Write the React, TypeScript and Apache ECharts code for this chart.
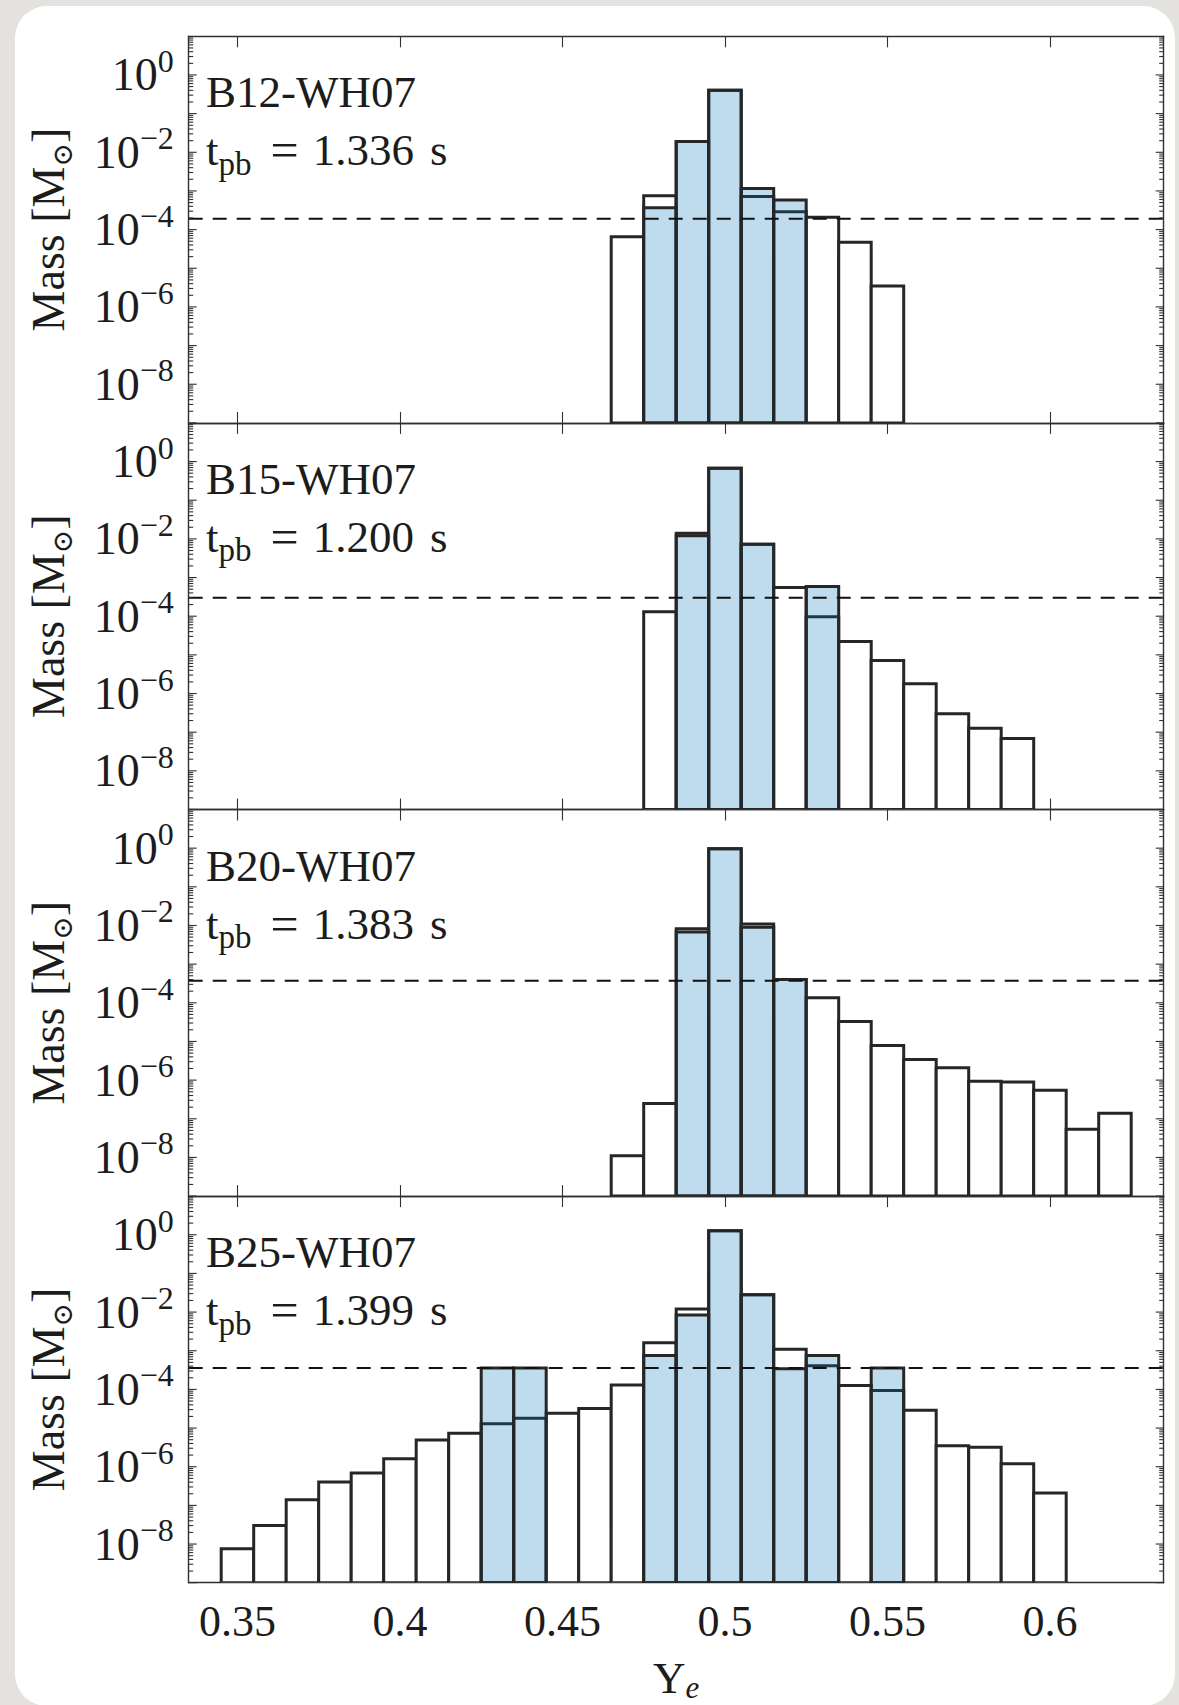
import React, { useEffect, useRef } from "react";
import * as echarts from "echarts";

// ---------- data ----------
const _ = null;
// Ye bin centres (bin width 0.01)
const YE_BINS = [
  0.35, 0.36, 0.37, 0.38, 0.39, 0.4, 0.41, 0.42, 0.43, 0.44, 0.45, 0.46, 0.47, 0.48,
  0.49, 0.5, 0.51, 0.52, 0.53, 0.54, 0.55, 0.56, 0.57, 0.58, 0.59, 0.6, 0.61, 0.62,
];
const BIN_WIDTH = 0.01;

// total mass per bin (white histogram)
const B12_TOTAL = [_, _, _, _, _, _, _, _, _, _, _, _, 6.5e-5, 7.5e-4, 1.9e-2, 0.4, 7.2e-4, 2.9e-4, 2.1e-4, 4.7e-5, 3.5e-6, _, _, _, _, _, _, _];
const B15_TOTAL = [_, _, _, _, _, _, _, _, _, _, _, _, _, 1.3e-4, 1.4e-2, 0.67, 7.3e-3, 5.5e-4, 9.7e-5, 2.2e-5, 7.1e-6, 1.8e-6, 3.0e-7, 1.26e-7, 6.9e-8, _, _, _];
const B20_TOTAL = [_, _, _, _, _, _, _, _, _, _, _, _, 1.1e-8, 2.5e-7, 8.2e-3, 0.96, 1.1e-2, 4.0e-4, 1.35e-4, 3.3e-5, 7.9e-6, 3.4e-6, 2.1e-6, 9.3e-7, 8.9e-7, 5.5e-7, 5.4e-8, 1.4e-7];
const B25_TOTAL = [7.6e-9, 3.0e-8, 1.4e-7, 4.0e-7, 6.9e-7, 1.6e-6, 4.9e-6, 7.3e-6, 1.3e-5, 1.8e-5, 2.4e-5, 3.2e-5, 1.3e-4, 1.6e-3, 1.2e-2, 1.27, 2.8e-2, 1.1e-3, 4.1e-4, 1.26e-4, 9.3e-5, 2.9e-5, 3.5e-6, 3.2e-6, 1.2e-6, 2.1e-7, _, _];

// blue histogram
const B12_BLUE = [_, _, _, _, _, _, _, _, _, _, _, _, _, 3.7e-4, 1.9e-2, 0.4, 1.15e-3, 5.8e-4, _, _, _, _, _, _, _, _, _, _];
const B15_BLUE = [_, _, _, _, _, _, _, _, _, _, _, _, _, _, 1.2e-2, 0.67, 7.3e-3, _, 5.9e-4, _, _, _, _, _, _, _, _, _];
const B20_BLUE = [_, _, _, _, _, _, _, _, _, _, _, _, _, _, 6.8e-3, 0.96, 9.0e-3, 4.0e-4, _, _, _, _, _, _, _, _, _, _];
const B25_BLUE = [_, _, _, _, _, _, _, _, 3.6e-4, 3.6e-4, _, _, _, 7.5e-4, 8.4e-3, 1.27, 2.8e-2, 3.4e-4, 7.5e-4, _, 3.6e-4, _, _, _, _, _, _, _];

// dashed threshold per model
const THRESHOLDS = [1.9e-4, 3.0e-4, 3.7e-4, 3.6e-4];
const MODEL_NAMES = ["B12-WH07", "B15-WH07", "B20-WH07", "B25-WH07"];
const TPB = ["1.336", "1.200", "1.383", "1.399"];

// axes
const X_MIN = 0.335;
const X_MAX = 0.635;
const X_TICKS = [0.35, 0.4, 0.45, 0.5, 0.55, 0.6];
const X_TICK_LABELS = ["0.35", "0.4", "0.45", "0.5", "0.55", "0.6"];
const Y_MIN = 1e-9;
const Y_MAX = 10;
const Y_LABEL_VALUES = [1, 1e-2, 1e-4, 1e-6, 1e-8];
const Y_DECADES = [1e-9, 1e-8, 1e-7, 1e-6, 1e-5, 1e-4, 1e-3, 1e-2, 1e-1, 1];
const Y_MINOR_MULTS = [2, 3, 4, 5, 6, 7, 8, 9];

// ---------- layout / style ----------
const FONT = "'Liberation Serif', 'DejaVu Serif', serif";
const TEXT = "#1c1c1c";
const AXIS = "#303030";
const EDGE = "#262626";
const GRID_LEFT = 188.7;
const GRID_WIDTH = 975;
const GRID_TOP0 = 36.3;
const GRID_H = 386.6;

function buildOption() {
  const totals = [B12_TOTAL, B15_TOTAL, B20_TOTAL, B25_TOTAL];
  const blues = [B12_BLUE, B15_BLUE, B20_BLUE, B25_BLUE];

  const yTickData: number[][] = [];
  Y_DECADES.forEach((d) => {
    yTickData.push([0.5, d, 1]);
    Y_MINOR_MULTS.forEach((k) => yTickData.push([0.5, d * k, 0]));
  });

  const grid: any[] = [];
  const xAxis: any[] = [];
  const yAxis: any[] = [];
  const series: any[] = [];
  const graphic: any[] = [
    {
      type: "rect",
      shape: { x: 15, y: 6, width: 1160, height: 1700, r: 32 },
      style: { fill: "#ffffff" },
      z: -100,
      silent: true,
    },
  ];

  const barRender = (fill: string) => (params: any, api: any) => {
    const c = api.value(0);
    const v = api.value(1);
    const p0 = api.coord([c - BIN_WIDTH / 2, v]);
    const p1 = api.coord([c + BIN_WIDTH / 2, Y_MIN]);
    return {
      type: "rect",
      shape: { x: p0[0], y: p0[1], width: p1[0] - p0[0], height: p1[1] - p0[1] },
      style: { fill, stroke: EDGE, lineWidth: 3 },
    };
  };

  for (let i = 0; i < 4; i++) {
    const top = GRID_TOP0 + i * GRID_H;
    grid.push({ left: GRID_LEFT, top, width: GRID_WIDTH, height: GRID_H, containLabel: false });
    const last = i === 3;
    const xCommon = {
      type: "value",
      gridIndex: i,
      min: X_MIN,
      max: X_MAX,
      splitLine: { show: false },
      axisLine: { show: true, lineStyle: { color: AXIS, width: 1.4 } },
      axisTick: { show: true, inside: true, length: 11, customValues: X_TICKS, lineStyle: { color: AXIS, width: 1.1 } },
    };
    xAxis.push({
      ...xCommon,
      position: "bottom",
      axisLabel: {
        show: last,
        customValues: X_TICKS,
        margin: 17,
        formatter: (v: number) => {
          const idx = X_TICKS.findIndex((t) => Math.abs(t - v) < 1e-6);
          return idx >= 0 ? X_TICK_LABELS[idx] : "";
        },
        fontFamily: FONT,
        fontSize: 44,
        lineHeight: 44,
        color: TEXT,
      },
      name: last ? "{n|Y}{s|e}" : "",
      nameLocation: "middle",
      nameGap: 70,
      nameTextStyle: {
        rich: {
          n: { fontFamily: FONT, fontSize: 45, lineHeight: 50, color: TEXT, verticalAlign: "middle" },
          s: { fontFamily: FONT, fontSize: 31, fontStyle: "italic", lineHeight: 26, color: TEXT, verticalAlign: "bottom" },
        },
      },
    });
    xAxis.push({ ...xCommon, position: "top", axisLabel: { show: false } });

    const yCommon = {
      type: "log",
      logBase: 10,
      gridIndex: i,
      min: Y_MIN,
      max: Y_MAX,
      splitLine: { show: false },
      axisLine: { show: true, lineStyle: { color: AXIS, width: 1.4 } },
      axisTick: { show: false },
      minorTick: { show: false },
    };
    yAxis.push({
      ...yCommon,
      position: "left",
      axisLabel: {
        show: true,
        customValues: Y_LABEL_VALUES,
        margin: 15,
        formatter: (v: number) => {
          const e = v > 0 ? Math.round(Math.log10(v)) : Math.round(v);
          const s = e < 0 ? "\u2212" + -e : String(e);
          return `{b|10}{s|${s}}`;
        },
        rich: {
          b: { fontFamily: FONT, fontSize: 46, lineHeight: 60, color: TEXT, verticalAlign: "middle" },
          s: { fontFamily: FONT, fontSize: 32, lineHeight: 32, color: TEXT, verticalAlign: "top" },
        },
      },
      name: "{n|Mass [M}{s|\u2299}{n|]}",
      nameLocation: "middle",
      nameRotate: 90,
      nameGap: 112,
      nameTextStyle: {
        rich: {
          n: { fontFamily: FONT, fontSize: 46, lineHeight: 56, color: TEXT, verticalAlign: "middle" },
          s: { fontFamily: "'DejaVu Serif', serif", fontSize: 28, lineHeight: 26, color: TEXT, verticalAlign: "bottom" },
        },
      },
    });
    yAxis.push({ ...yCommon, position: "right", axisLabel: { show: false } });

    const xi = 2 * i;
    const yi = 2 * i;
    const whiteData = YE_BINS.map((c, k) => [c, totals[i][k]]).filter((d) => d[1] != null);
    const blueData = YE_BINS.map((c, k) => [c, blues[i][k]]).filter((d) => d[1] != null);

    series.push({
      type: "custom",
      name: MODEL_NAMES[i] + " total",
      xAxisIndex: xi,
      yAxisIndex: yi,
      clip: true,
      z: 2,
      renderItem: barRender("#ffffff"),
      data: whiteData,
    });
    series.push({
      type: "custom",
      name: MODEL_NAMES[i] + " ejecta",
      xAxisIndex: xi,
      yAxisIndex: yi,
      clip: true,
      z: 3,
      renderItem: barRender("rgba(0, 114, 187, 0.25)"),
      data: blueData,
    });
    series.push({
      type: "custom",
      name: MODEL_NAMES[i] + " threshold",
      xAxisIndex: xi,
      yAxisIndex: yi,
      z: 4,
      renderItem: (params: any, api: any) => {
        const y = api.coord([0.5, api.value(1)])[1];
        const cs = params.coordSys;
        return {
          type: "line",
          shape: { x1: cs.x, y1: y, x2: cs.x + cs.width, y2: y },
          style: { stroke: "#111111", lineWidth: 2, lineDash: [14, 10] },
        };
      },
      data: [[0.5, THRESHOLDS[i]]],
    });
    series.push({
      type: "custom",
      name: MODEL_NAMES[i] + " yticks",
      xAxisIndex: xi,
      yAxisIndex: yi,
      z: 5,
      silent: true,
      renderItem: (params: any, api: any) => {
        const y = api.coord([0.5, api.value(1)])[1];
        const cs = params.coordSys;
        const len = api.value(2) === 1 ? 8 : 4.5;
        const st = { stroke: AXIS, lineWidth: 1.1 };
        return {
          type: "group",
          children: [
            { type: "line", shape: { x1: cs.x, y1: y, x2: cs.x + len, y2: y }, style: st },
            { type: "line", shape: { x1: cs.x + cs.width, y1: y, x2: cs.x + cs.width - len, y2: y }, style: st },
          ],
        };
      },
      data: yTickData,
    });

    graphic.push({
      type: "text",
      x: 206,
      y: top + 56,
      z: 100,
      silent: true,
      style: { text: MODEL_NAMES[i], fontFamily: FONT, fontSize: 45, fill: TEXT, verticalAlign: "middle" },
    });
    graphic.push({
      type: "text",
      x: 206,
      y: top + 114,
      z: 100,
      silent: true,
      style: {
        text: `{t|t}{s|pb}{e|=}{t|${TPB[i]}}{u|s}`,
        verticalAlign: "middle",
        rich: {
          t: { fontFamily: FONT, fontSize: 45, lineHeight: 60, fill: TEXT, color: TEXT, verticalAlign: "middle" },
          s: { fontFamily: FONT, fontSize: 33, lineHeight: 28, fill: TEXT, color: TEXT, verticalAlign: "bottom" },
          e: { fontFamily: FONT, fontSize: 50, lineHeight: 60, fill: TEXT, color: TEXT, verticalAlign: "middle", padding: [0, 14, 0, 19] },
          u: { fontFamily: FONT, fontSize: 45, lineHeight: 60, fill: TEXT, color: TEXT, verticalAlign: "middle", padding: [0, 0, 0, 16] },
        },
      },
    });
  }

  return {
    animation: false,
    backgroundColor: "#e4e2df",
    textStyle: { fontFamily: FONT },
    grid,
    xAxis,
    yAxis,
    series,
    graphic,
  };
}

export default function App() {
  const ref = useRef<HTMLDivElement>(null);
  useEffect(() => {
    document.body.style.margin = "0";
    const chart = echarts.init(ref.current!, null, { renderer: "svg" });
    chart.setOption(buildOption() as any);
    return () => chart.dispose();
  }, []);
  return <div ref={ref} style={{ width: 1179, height: 1705 }} />;
}
